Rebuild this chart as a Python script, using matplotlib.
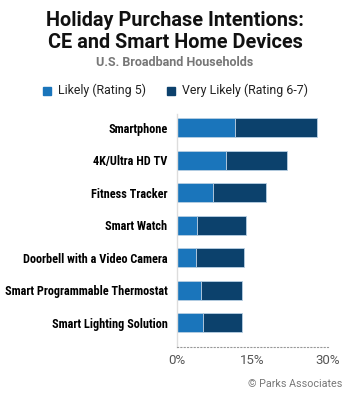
import numpy as np
from matplotlib import pyplot as plt

categories = ['Smartphone', '4K/Ultra HD TV', 'Fitness Tracker', 'Smart Watch',
              'Doorbell with a Video Camera', 'Smart Programmable Thermostat',
              'Smart Lighting Solution']
likely = [11.5, 9.6, 7.2, 3.9, 3.7, 4.7, 5.1]
very_likely = [16.3, 12.3, 10.4, 9.8, 9.5, 8.1, 7.7]
xticks = [0, 15, 30]
xtick_labels = ['0%', '15%', '30%']

c_light = '#1a75bb'
c_dark = '#0c416c'
narrow = ['Roboto Condensed', 'Liberation Sans Narrow', 'Roboto', 'DejaVu Sans']
plt.rcParams['font.family'] = ['Roboto', 'DejaVu Sans']

fig = plt.figure(figsize=(3.5, 4), dpi=100)
ax = fig.add_axes([177.3/350, 1-347/400, (328-177.3)/350, (347-114)/400])
renderer = fig.canvas.get_renderer()


def fit(t, width_px):
    # shrink/grow a text so it spans width_px pixels
    w = t.get_window_extent(renderer).width
    t.set_fontsize(t.get_fontsize() * width_px / w)
    return t


y = np.arange(len(categories))
ax.barh(y, likely, height=0.585, color=c_light, edgecolor='#b8cfe3', linewidth=0.6)
ax.barh(y, very_likely, left=likely, height=0.585, color=c_dark,
        edgecolor='#b8cfe3', linewidth=0.6)

ax.set_xlim(0, 30)
ax.set_ylim(6.74, -0.43)
ax.set_yticks(y)
labels = ax.set_yticklabels(categories, family=narrow, fontweight='bold', fontsize=10, color='#000000')
w = labels[5].get_window_extent(renderer).width
for lb in labels:
    lb.set_fontsize(10 * 164 / w)
ax.set_xticks(xticks)
ax.set_xticklabels(xtick_labels, fontsize=9.5, color='#555555')
ax.tick_params(length=0, pad=5)
ax.tick_params(axis='y', pad=7)

for s in ['top', 'right']:
    ax.spines[s].set_visible(False)
ax.spines['left'].set_color('#dddddd')
ax.spines['left'].set_linewidth(1)
ax.spines['bottom'].set_color('#999999')
ax.spines['bottom'].set_linestyle((0, (1, 2)))
ax.spines['bottom'].set_linewidth(0.8)

t1 = fig.text(0.5, 1-21/400, 'Holiday Purchase Intentions:', ha='center', va='center',
              fontsize=13, fontweight='bold', color='#111111')
fit(t1, 258)
fig.text(0.5, 1-43/400, 'CE and Smart Home Devices', ha='center', va='center',
         fontsize=t1.get_fontsize(), fontweight='bold', color='#111111')
t3 = fig.text(0.5, 1-63/400, 'U.S. Broadband Households', ha='center', va='center',
              fontsize=9, fontweight='bold', color='#777777')
fit(t3, 158)

# legend
fig.patches.append(plt.Rectangle((43/350, 1-95/400), 8/350, 8/400,
                                 transform=fig.transFigure, color=c_light))
l1 = fig.text(58/350, 1-90.5/400, 'Likely (Rating 5)', va='center', fontsize=9, color='#222222')
fit(l1, 89)
fig.patches.append(plt.Rectangle((167/350, 1-95/400), 8/350, 8/400,
                                 transform=fig.transFigure, color=c_dark))
fig.text(182/350, 1-90.5/400, 'Very Likely (Rating 6-7)', va='center',
         fontsize=l1.get_fontsize(), color='#222222')

cp = fig.text(342/350, 1-384/400, '© Parks Associates', ha='right', va='center',
              fontsize=9, color='#777777')
fit(cp, 94)

fig.savefig('out.png', dpi=100)
